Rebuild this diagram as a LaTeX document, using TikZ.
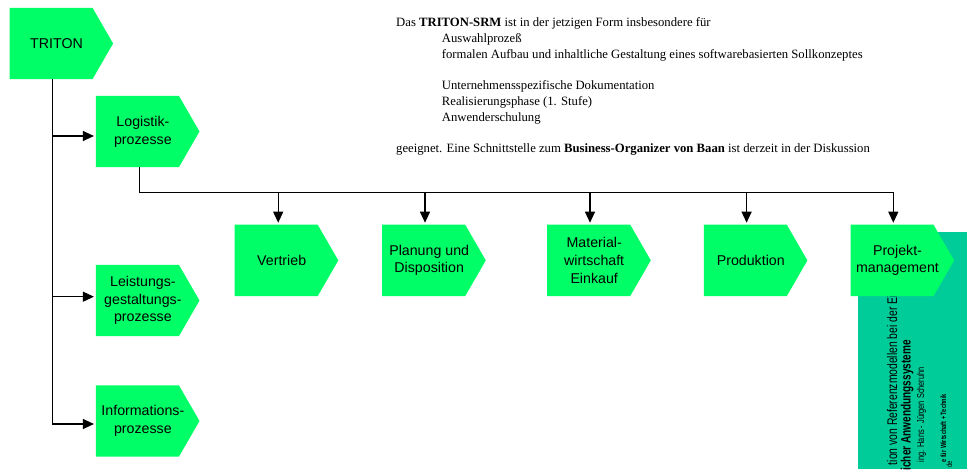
\documentclass[tikz,border=0pt]{standalone}
\usepackage{fontspec}
\setmainfont{Liberation Serif}
\newfontfamily\arial{Liberation Sans}
\newfontfamily\narrow[FakeStretch=0.74]{Liberation Sans}
\usetikzlibrary{arrows.meta}

\definecolor{procgreen}{RGB}{0,255,102}
\definecolor{bannerteal}{RGB}{0,204,153}

\tikzset{
  x=1pt, y=-1pt,
  procbody/.style={rectangle, minimum width=82.6pt, minimum height=71pt, inner sep=0pt},
  proctext/.style={font=\arial\fontsize{14.2}{17.8}\selectfont, align=center, inner sep=0pt},
  link/.style={line width=1.2pt, black},
  arr/.style={link, -{Triangle[length=11pt,width=10pt]}, shorten >=2pt},
  note/.style={font=\fontsize{12.7}{15.75}\selectfont, anchor=base west, inner sep=0pt},
  banner/.style={rotate=90, anchor=base east, inner sep=0pt},
}

% process step: body rectangle with a pointed right side and its label
\newcommand\procstep[3]{%
  \node[procbody] (#1) at (#2) {};
  \fill[procgreen] (#1.north west) -- (#1.north east) -- ([xshift=20.6pt]#1.east)
    -- (#1.south east) -- (#1.south west) -- cycle;
  \node[proctext] (#1-label) at ([xshift=5.5pt]#1.center) {#3};
}

\begin{document}
\begin{tikzpicture}
\fill[white] (0,0) rectangle (967,469);
\useasboundingbox (0,0) rectangle (967,469);

% explanatory text
\node[note] (intro) at (396,26.5) {Das \textbf{TRITON-SRM} ist in der jetzigen Form insbesondere für};
\node[note] (use1) at (441.7,42.25) {Auswahlprozeß};
\node[note] (use2) at (441.7,58) {formalen Aufbau und inhaltliche Gestaltung eines softwarebasierten Sollkonzeptes};
\node[note] (use3) at (441.7,89.5) {Unternehmensspezifische Dokumentation};
\node[note] (use4) at (441.7,105.25) {Realisierungsphase (1. Stufe)};
\node[note] (use5) at (441.7,121) {Anwenderschulung};
\node[note] (outro) at (396,152.5) {geeignet. Eine Schnittstelle zum \textbf{Business-Organizer von Baan} ist derzeit in der Diskussion};

% title banner at the lower right
\fill[bannerteal] (858.3,231.7) rectangle (967,469);
\node[banner, font=\narrow\fontsize{14}{16}\selectfont] (ban1) at (897,295) {tion von Referenzmodellen bei der Ei};
\node[banner, font=\narrow\bfseries\fontsize{13.6}{16}\selectfont] (ban2) at (910.7,340) {icher Anwendungssysteme};
\node[banner, font=\narrow\fontsize{10}{12}\selectfont] (ban3) at (924,367) {ing. Hans - Jürgen Scheruhn};
\node[banner, font=\narrow\bfseries\fontsize{7.6}{9}\selectfont] (ban4) at (946,394) {e für Wirtschaft + Technik};
\node[banner, font=\narrow\fontsize{8}{9}\selectfont] (ban5) at (952,461) {de};

% process steps
\procstep{triton}{51,43.5}{TRITON}
\procstep{logistik}{137.4,131.5}{Logistik-\\prozesse}
\procstep{leistung}{137.4,300.5}{Leistungs-\\gestaltungs-\\prozesse}
\procstep{info}{137.4,421}{Informations-\\prozesse}
\procstep{vertrieb}{276.2,260.4}{Vertrieb}
\procstep{planung}{423.7,260.4}{Planung und\\Disposition}
\procstep{material}{588.7,260.4}{Material-\\wirtschaft\\Einkauf}
\procstep{produktion}{745.3,260.4}{Produktion}
\procstep{projekt}{892,260.4}{Projekt-\\management}

% trunk from TRITON to the three process groups
\coordinate (trunk) at ([xshift=1.3pt]triton.south);
\coordinate (j1) at (52.3,136);
\coordinate (j2) at (52.3,296.7);
\coordinate (j3) at (52.3,424);
\draw[link] (trunk) -- (j3);
\draw[arr] (j1) -- (j1 -| logistik.west);
\draw[arr] (j2) -- (j2 -| leistung.west);
\draw[arr] (j3) -- (j3 -| info.west);

% bus from the logistics processes to its sub-processes
\coordinate (busstart) at (139.3,192.3);
\coordinate (busend) at (893.3,192.3);
\draw[arr] (busstart |- logistik.south) -- (busstart) -- (busend) -- (busend |- projekt.north);
\draw[arr] ([xshift=2pt]vertrieb.north |- busstart) -- ([xshift=2pt]vertrieb.north);
\draw[arr] ([xshift=1.3pt]planung.north |- busstart) -- ([xshift=1.3pt]planung.north);
\draw[arr] ([xshift=1.3pt]material.north |- busstart) -- ([xshift=1.3pt]material.north);
\draw[arr] ([xshift=1.3pt]produktion.north |- busstart) -- ([xshift=1.3pt]produktion.north);
\end{tikzpicture}
\end{document}
